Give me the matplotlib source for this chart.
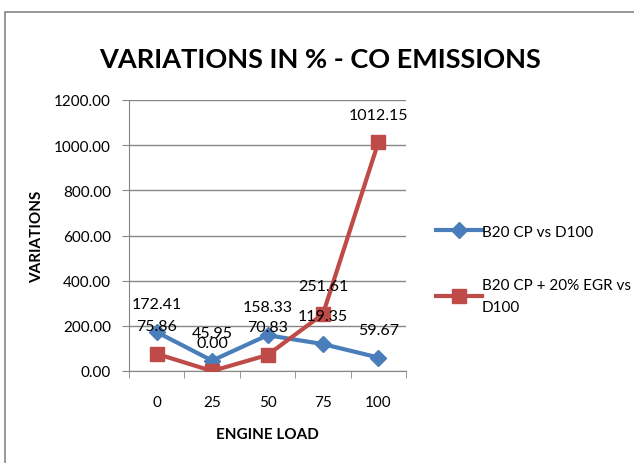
import matplotlib.pyplot as plt
from matplotlib.patches import Rectangle

# Engine load categories and the two variation series (%)
loads = ["0", "25", "50", "75", "100"]
b20_cp = [172.41, 45.95, 158.33, 119.35, 59.67]
b20_cp_egr = [75.86, 0.00, 70.83, 251.61, 1012.15]
yticks = [0, 200, 400, 600, 800, 1000, 1200]

plt.rcParams['font.family'] = ['Lato', 'DejaVu Sans']

fig = plt.figure(figsize=(6.34, 4.64), dpi=100)
W, H = 634, 464
ax = fig.add_axes([129 / W, 1 - 372 / H, (406 - 129) / W, (372 - 101) / H])

x = list(range(len(loads)))
blue = "#4a7ebb"
red = "#be4b48"
ax.plot(x, b20_cp, color=blue, lw=3, marker="D", ms=8, label="B20 CP vs D100", zorder=3)
ax.plot(x, b20_cp_egr, color=red, lw=3, marker="s", ms=10, label="B20 CP + 20% EGR vs\nD100", zorder=3)

for xi, v in zip(x, b20_cp):
    ax.annotate(f"{v:.2f}", (xi, v), xytext=(0, 20), textcoords="offset points",
                ha="center", va="center", fontsize=11.5, zorder=4)
for xi, v in zip(x, b20_cp_egr):
    ax.annotate(f"{v:.2f}", (xi, v), xytext=(0, 20), textcoords="offset points",
                ha="center", va="center", fontsize=11.5, zorder=4)

ax.set_xlim(-0.5, len(loads) - 0.5)
ax.set_ylim(0, 1200)
ax.set_yticks(yticks)
ax.set_yticklabels([f"{t:.2f}" for t in yticks], fontsize=11)
ax.set_xticks(x)
ax.set_xticklabels(loads, fontsize=11)
ax.set_xticks([i - 0.5 for i in range(len(loads) + 1)], minor=True)
ax.tick_params(axis="x", which="major", length=0, pad=17)
ax.tick_params(axis="x", which="minor", length=5, color="#868686", direction="out")
ax.tick_params(axis="y", length=5, color="#868686", pad=8)
ax.grid(axis="y", color="#868686", lw=1)
ax.set_axisbelow(True)
for s in ["top", "right"]:
    ax.spines[s].set_visible(False)
for s in ["left", "bottom"]:
    ax.spines[s].set_color("#868686")

ax.set_xlabel("ENGINE LOAD", fontsize=11, fontweight="bold", labelpad=13)
ax.set_ylabel("VARIATIONS", fontsize=11, fontweight="bold")
ax.yaxis.set_label_coords(-0.305, 0.5)

fig.text(320 / W, 1 - 60 / H, "VARIATIONS IN % - CO EMISSIONS", fontsize=19.5,
         fontweight="bold", ha="center", va="center")

leg = fig.legend(loc="upper left", bbox_to_anchor=(422 / W, 1 - 212 / H), frameon=False,
                 fontsize=11, labelspacing=2.6, handlelength=3.0, handletextpad=0.0)
for t in leg.get_texts():
    t.set_linespacing(1.7)

fig.patches.append(Rectangle((5 / W, -0.1), 1, 1 - 13 / H + 0.1, transform=fig.transFigure,
                             fill=False, edgecolor="#868686", lw=1.2))

fig.savefig("out.png", dpi=100)
